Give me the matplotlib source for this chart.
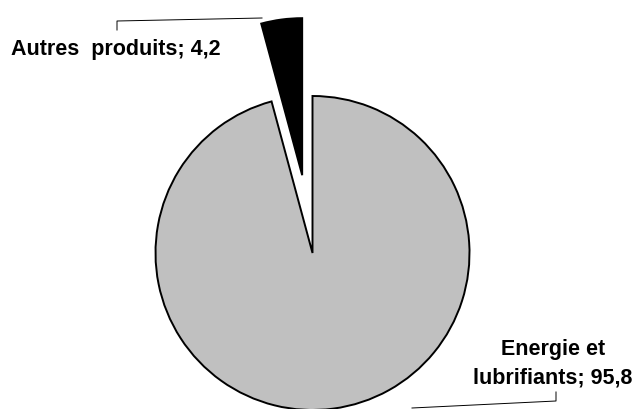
import matplotlib
matplotlib.use("Agg")
import matplotlib.pyplot as plt

labels = ["Autres  produits; 4,2", "Energie et\nlubrifiants; 95,8"]
values = [4.2, 95.8]
colors = ["#000000", "#C0C0C0"]

W, H = 638, 409
R = 157
explode = [0.5 * R, 0.0]  # offset in data units (pixels)

fig = plt.figure(figsize=(W / 100, H / 100), dpi=100)
ax = fig.add_axes([0, 0, 1, 1])

ax.pie(values, colors=colors, explode=explode, startangle=90, counterclock=True,
       center=(312.5, H - 253), radius=R,
       wedgeprops=dict(edgecolor="black", linewidth=1.4))

ax.set_xlim(0, W)
ax.set_ylim(0, H)
ax.set_aspect("auto")
ax.axis("off")

font = dict(family="Liberation Sans", fontsize=15.5, fontweight="bold", color="black")
ax.text(11, H - 49, labels[0], ha="left", va="center", **font)
ax.text(553, H - 364, labels[1], ha="center", va="center", linespacing=1.45, **font)

# leader lines
ax.plot([117, 117, 262], [H - 30, H - 21, H - 18], color="black", lw=0.7)
ax.plot([556, 556, 412], [H - 392, H - 401, H - 408], color="black", lw=0.7)

fig.savefig("out.png", dpi=100)
